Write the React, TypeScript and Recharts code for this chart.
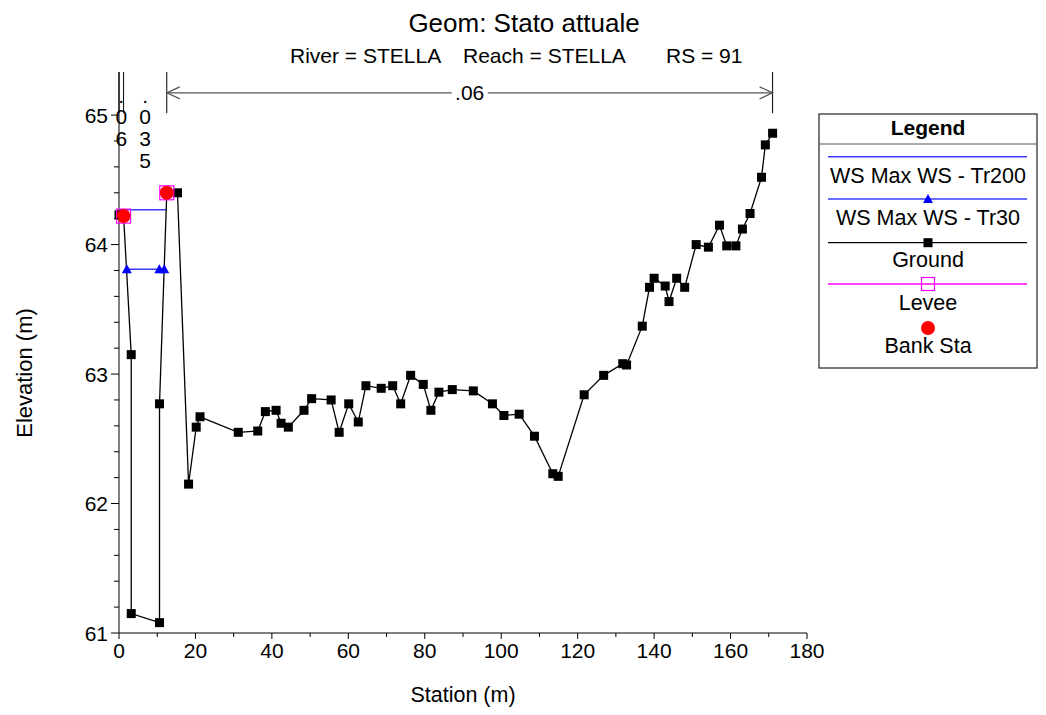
import React from "react";
import { ComposedChart, Line, XAxis, YAxis, ReferenceLine, ReferenceDot } from "recharts";

// cross section survey (station m, elevation m)
const groundStation = [
  0, 1.2, 3.2, 3.2, 10.6, 10.6, 12.5, 15.3, 18.2, 20.2,
  21.2, 31.2, 36.3, 38.3, 41.1, 42.4, 44.3, 48.4, 50.4, 55.5,
  57.6, 60.1, 62.6, 64.6, 68.6, 71.6, 73.7, 76.3, 79.6, 81.6,
  83.7, 87.2, 92.7, 97.7, 100.7, 104.7, 108.7, 113.5, 114.9, 121.7,
  126.8, 131.8, 132.8, 136.9, 138.8, 140.0, 142.9, 143.9, 145.9, 148.0,
  151.0, 154.2, 157.1, 159.0, 161.4, 163.1, 165.1, 168.1, 169.1, 171.0,
];
const groundElev = [
  64.23, 64.22, 63.15, 61.15, 61.08, 62.77, 64.4, 64.4, 62.15, 62.59,
  62.67, 62.55, 62.56, 62.71, 62.72, 62.62, 62.59, 62.72, 62.81, 62.8,
  62.55, 62.77, 62.63, 62.91, 62.89, 62.91, 62.77, 62.99, 62.92, 62.72,
  62.86, 62.88, 62.87, 62.77, 62.68, 62.69, 62.52, 62.23, 62.21, 62.84,
  62.99, 63.08, 63.07, 63.37, 63.67, 63.74, 63.68, 63.56, 63.74, 63.67,
  64.0, 63.98, 64.15, 63.99, 63.99, 64.12, 64.24, 64.52, 64.77, 64.86,
];

const tr200Station = [0, 12.35];
const tr200Elev = [64.27, 64.27];
const tr30Station = [2.05, 10.55, 11.84];
const tr30Elev = [63.81, 63.81, 63.81];
const leveeStation = [1.2, 12.5];
const leveeElev = [64.22, 64.4];
const bankStation = [1.2, 12.5];
const bankElev = [64.22, 64.4];

// manning n regions
const nBreaks = [0, 1.2, 12.5, 171];
const nValues = [".06", ".035", ".06"];

const xTicks = [0, 10, 20, 30, 40, 50, 60, 70, 80, 90, 100, 110, 120, 130, 140, 150, 160, 170, 180];
const yTicks = [
  61, 61.2, 61.4, 61.6, 61.8, 62, 62.2, 62.4, 62.6, 62.8, 63,
  63.2, 63.4, 63.6, 63.8, 64, 64.2, 64.4, 64.6, 64.8, 65,
];
const yTop = 65.333;
const nLineBottom = 65.015;
const nArrowY = 65.172;

const toPts = (xs: number[], ys: number[]) => xs.map((x, i) => ({ x, y: ys[i] }));
const ground = toPts(groundStation, groundElev);
const tr200 = toPts(tr200Station, tr200Elev);
const tr30 = toPts(tr30Station, tr30Elev);
const levee = toPts(leveeStation, leveeElev);
const bank = toPts(bankStation, bankElev);

const FONT = "'Liberation Sans', Arial, sans-serif";

function XTick({ x, y, payload }: any) {
  const v = payload.value;
  const major = v % 20 === 0;
  return (
    <g>
      <line x1={x} x2={x} y1={y} y2={y + (major ? 6 : 4)} stroke="#000" />
      {major && (
        <text x={x} y={y + 25} textAnchor="middle" fontSize={21} fill="#000">
          {v}
        </text>
      )}
    </g>
  );
}

function YTick({ x, y, payload }: any) {
  const v = payload.value;
  const major = Math.abs(v - Math.round(v)) < 1e-6;
  return (
    <g>
      <line x1={x - (major ? 8 : 5)} x2={x} y1={y} y2={y} stroke="#000" />
      {major && (
        <text x={x - 11} y={y + 7.5} textAnchor="end" fontSize={21} fill="#000">
          {Math.round(v)}
        </text>
      )}
    </g>
  );
}

const squareDot = (p: any) => (
  <rect key={`g-${p.index}`} x={p.cx - 4.5} y={p.cy - 4.5} width={9} height={9} fill="#000" />
);
const triDot = (p: any) => (
  <path key={`t-${p.index}`} d={`M${p.cx},${p.cy - 5} L${p.cx + 5},${p.cy + 4} L${p.cx - 5},${p.cy + 4} Z`} fill="#0000ff" />
);
const leveeDot = (p: any) => (
  <rect key={`l-${p.index}`} x={p.cx - 7} y={p.cy - 7} width={14} height={14} fill="none" stroke="#ff00ff" strokeWidth={1.2} />
);
const bankDot = (p: any) => <circle key={`b-${p.index}`} cx={p.cx} cy={p.cy} r={7} fill="#ff0000" />;

function NArrow({ x1, x2, y1, text }: any) {
  const mid = (x1 + x2) / 2;
  return (
    <g>
      <line x1={x1} x2={x2} y1={y1} y2={y1} stroke="#555" strokeWidth={1.2} />
      <polyline points={`${x1 + 13},${y1 - 6} ${x1},${y1} ${x1 + 13},${y1 + 6}`} fill="none" stroke="#555" strokeWidth={1.2} />
      <polyline points={`${x2 - 13},${y1 - 6} ${x2},${y1} ${x2 - 13},${y1 + 6}`} fill="none" stroke="#555" strokeWidth={1.2} />
      <rect x={mid - 18} y={y1 - 11} width={36} height={22} fill="#fff" />
      <text x={mid} y={y1 + 7} textAnchor="middle" fontSize={21} fill="#000">
        {text}
      </text>
    </g>
  );
}

function VText({ cx, cy, text }: any) {
  return (
    <g>
      {text.split("").map((c: string, i: number) => (
        <text key={i} x={cx} y={cy + 23 + i * 21.7} dy="0.36em" textAnchor="middle" fontSize={21} fill="#000">
          {c}
        </text>
      ))}
    </g>
  );
}

function LegendBox() {
  const cx = 920;
  const l1 = 820;
  const l2 = 1019;
  return (
    <g fontSize={21.5} fill="#000">
      <rect x={811} y={106} width={218} height={254} fill="#fff" stroke="#222" strokeWidth={1.2} />
      <line x1={811} x2={1029} y1={136} y2={136} stroke="#555" />
      <text x={cx} y={127} textAnchor="middle" fontWeight="bold" fontSize={21}>
        Legend
      </text>
      <line x1={l1} x2={l2} y1={148.7} y2={148.7} stroke="#3c3cff" strokeWidth={1.5} />
      <text x={cx} y={175} textAnchor="middle">WS Max WS - Tr200</text>
      <line x1={l1} x2={l2} y1={191} y2={191} stroke="#3c3cff" strokeWidth={1.5} />
      <path d={`M${cx},${186} L${cx + 5},${195} L${cx - 5},${195} Z`} fill="#0000ff" />
      <text x={cx} y={217} textAnchor="middle">WS Max WS - Tr30</text>
      <line x1={l1} x2={l2} y1={234.7} y2={234.7} stroke="#000" strokeWidth={1.3} />
      <rect x={cx - 4.5} y={230.2} width={9} height={9} fill="#000" />
      <text x={cx} y={259} textAnchor="middle">Ground</text>
      <line x1={l1} x2={l2} y1={276} y2={276} stroke="#ff00ff" strokeWidth={1.3} />
      <rect x={cx - 6.5} y={269.5} width={13} height={13} fill="none" stroke="#ff00ff" strokeWidth={1.2} />
      <text x={cx} y={302} textAnchor="middle">Levee</text>
      <circle cx={cx} cy={320} r={7} fill="#ff0000" />
      <text x={cx} y={345} textAnchor="middle">Bank Sta</text>
    </g>
  );
}

export default function App() {
  const W = 1030;
  const H = 700;
  return (
    <div style={{ position: "relative", width: W, height: H, fontFamily: FONT, background: "#fff" }}>
      <ComposedChart
        width={W}
        height={H}
        margin={{ top: 64, right: 231, left: 51, bottom: 35 }}
        style={{ fontFamily: FONT }}
      >
        <XAxis
          type="number"
          dataKey="x"
          domain={[0, 180]}
          ticks={xTicks}
          interval={0}
          height={40}
          tickSize={0}
          tickMargin={0}
          tickLine={false}
          axisLine={{ stroke: "#000" }}
          tick={<XTick />}
        />
        <YAxis
          type="number"
          dataKey="y"
          domain={[61, yTop]}
          ticks={yTicks}
          interval={0}
          width={60}
          tickSize={0}
          tickMargin={0}
          tickLine={false}
          axisLine={{ stroke: "#000" }}
          tick={<YTick />}
        />
        {nBreaks.map((s) => (
          <ReferenceLine
            key={`nb-${s}`}
            segment={[{ x: s, y: yTop }, { x: s, y: nLineBottom }]}
            stroke="#000"
            strokeWidth={1}
            ifOverflow="visible"
          />
        ))}
        {nValues.map((n, i) => {
          const a = nBreaks[i];
          const b = nBreaks[i + 1];
          if (b - a < 20) {
            return (
              <ReferenceDot
                key={`nv-${i}`}
                x={(a + b) / 2}
                y={yTop}
                ifOverflow="visible"
                shape={(p: any) => <VText cx={p.cx} cy={p.cy} text={n} />}
              />
            );
          }
          return (
            <ReferenceLine
              key={`nv-${i}`}
              segment={[{ x: a, y: nArrowY }, { x: b, y: nArrowY }]}
              ifOverflow="visible"
              shape={(p: any) => <NArrow x1={p.x1} x2={p.x2} y1={p.y1} text={n} />}
            />
          );
        })}
        <Line data={tr200} dataKey="y" type="linear" stroke="#3c3cff" strokeWidth={1.5} dot={false} isAnimationActive={false} />
        <Line data={tr30} dataKey="y" type="linear" stroke="#3c3cff" strokeWidth={1.5} dot={triDot} isAnimationActive={false} />
        <Line data={ground} dataKey="y" type="linear" stroke="#000" strokeWidth={1.3} dot={squareDot} isAnimationActive={false} />
        <Line data={levee} dataKey="y" type="linear" stroke="none" dot={leveeDot} isAnimationActive={false} />
        <Line data={bank} dataKey="y" type="linear" stroke="none" dot={bankDot} isAnimationActive={false} />
      </ComposedChart>
      <svg
        width={W}
        height={H}
        style={{ position: "absolute", left: 0, top: 0, pointerEvents: "none", fontFamily: FONT, overflow: "visible" }}
      >
        <text x={516} y={24} textAnchor="middle" fontSize={26}>
          Geom: Stato attuale
        </text>
        <text x={282} y={55} fontSize={21}>River = STELLA</text>
        <text x={455} y={55} fontSize={21}>Reach = STELLA</text>
        <text x={658} y={55} fontSize={21}>RS = 91</text>
        <text x={455} y={694} textAnchor="middle" fontSize={21.5}>
          Station (m)
        </text>
        <text x={24} y={365} textAnchor="middle" fontSize={22} transform="rotate(-90 24 365)">
          Elevation (m)
        </text>
        <LegendBox />
      </svg>
    </div>
  );
}
